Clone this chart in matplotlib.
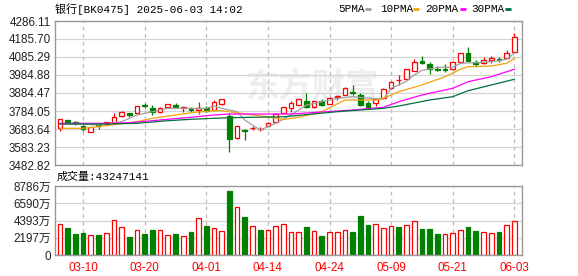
import matplotlib
matplotlib.use('Agg')
import matplotlib.pyplot as plt
from matplotlib.lines import Line2D
import numpy as np

# trading days shown (MM-DD)
dates = ['03-05', '03-06', '03-07', '03-10', '03-11', '03-12', '03-13', '03-14', '03-17', '03-18',
         '03-19', '03-20', '03-21', '03-24', '03-25', '03-26', '03-27', '03-28', '03-31',
         '04-01', '04-02', '04-03', '04-07', '04-08', '04-09', '04-10', '04-11', '04-14', '04-15',
         '04-16', '04-17', '04-18', '04-21', '04-22', '04-23', '04-24', '04-25', '04-28', '04-29',
         '04-30',
         '05-06', '05-07', '05-08', '05-09', '05-12', '05-13', '05-14', '05-15', '05-16', '05-19',
         '05-20', '05-21', '05-22', '05-23', '05-26', '05-27', '05-28', '05-29', '05-30',
         '06-03']

opens = [3687.5, 3733.8, 3723.0, 3702.0, 3668.6, 3708.0, 3709.0, 3715.4, 3756.2, 3771.2,
         3771.2, 3820.3, 3799.1, 3776.8, 3804.7, 3817.5, 3799.1, 3793.5, 3787.9, 3798.0,
         3789.6, 3821.4, 3756.2, 3631.8, 3680.8, 3689.2, 3683.7, 3702.1, 3724.4, 3772.9,
         3799.1, 3817.5, 3841.5, 3804.7, 3841.5, 3823.1, 3859.4, 3873.3, 3891.7, 3873.3,
         3830.4, 3827.0, 3854.9, 3910.7, 3954.2, 3960.9, 4008.9, 4060.2, 4046.2, 4018.4,
         4018.4, 4020.0, 4059.0, 4105.9, 4059.0, 4050.1, 4068.5, 4074.1, 4078.0, 4114.9]
highs = [3737.8, 3736.0, 3730.0, 3704.0, 3697.0, 3715.4, 3724.0, 3771.2, 3785.7, 3773.0,
         3813.0, 3830.4, 3817.5, 3804.0, 3825.0, 3830.4, 3811.9, 3803.6, 3835.9, 3811.9,
         3845.4, 3850.0, 3771.2, 3701.0, 3682.0, 3700.4, 3693.1, 3724.4, 3774.6, 3808.0,
         3841.5, 3851.0, 3882.8, 3841.0, 3849.3, 3863.8, 3873.3, 3916.3, 3929.1, 3886.1,
         3839.8, 3853.0, 3915.1, 3950.0, 3982.1, 4018.0, 4072.5, 4092.5, 4059.0, 4035.1,
         4044.6, 4063.0, 4107.0, 4138.3, 4068.5, 4082.5, 4090.9, 4085.3, 4122.7, 4217.5]
lows = [3674.2, 3716.0, 3706.0, 3672.0, 3668.0, 3682.0, 3706.0, 3714.0, 3748.9, 3750.6,
        3770.0, 3799.1, 3761.7, 3775.0, 3803.0, 3803.0, 3780.1, 3778.5, 3767.3, 3778.5,
        3789.0, 3820.0, 3553.7, 3630.0, 3622.3, 3678.1, 3674.2, 3701.0, 3715.4, 3771.0,
        3780.1, 3816.0, 3803.0, 3803.0, 3811.9, 3822.0, 3845.4, 3872.0, 3873.3, 3811.9,
        3793.5, 3814.7, 3854.0, 3909.0, 3929.1, 3959.0, 4007.0, 4044.6, 3988.8, 4008.0,
        4001.6, 4012.8, 4058.0, 4063.0, 4027.8, 4046.2, 4053.5, 4059.0, 4077.0, 4114.0]
closes = [3737.8, 3718.8, 3719.0, 3682.0, 3696.5, 3700.0, 3720.0, 3752.3, 3776.8, 3761.7,
          3811.9, 3809.2, 3778.5, 3802.5, 3823.1, 3804.7, 3803.6, 3789.6, 3798.0, 3786.8,
          3835.9, 3849.3, 3627.9, 3700.4, 3672.5, 3692.0, 3683.7, 3718.8, 3765.7, 3806.4,
          3825.9, 3849.3, 3804.7, 3839.8, 3817.5, 3858.2, 3865.0, 3910.7, 3882.8, 3817.5,
          3804.7, 3852.1, 3905.1, 3948.6, 3954.2, 4016.7, 4055.7, 4054.6, 4015.6, 4010.0,
          4013.9, 4057.4, 4105.9, 4064.6, 4044.6, 4071.3, 4078.0, 4070.2, 4109.3, 4195.7]

# volume in 万
volumes = [3950, 3395, 2630, 2758, 2503, 2503, 2758, 4455, 3522, 2250,
           3182, 2630, 3182, 3182, 2503, 2630, 2376, 2927, 4667, 3692,
           3395, 3055, 8147, 6067, 4837, 3692, 3182, 3182, 3692, 3904,
           2889, 2889, 3522, 3055, 2376, 2889, 2889, 3182, 2889, 4964,
           3819, 3904, 3395, 3650, 3522, 3819, 4328, 3310, 3310, 2673,
           2630, 2758, 3182, 3522, 3097, 2889, 2758, 2927, 3819, 4324.7141]
vol_up = [1, 0, 0, 0, 1, 0, 1, 1, 1, 0, 1, 0, 0, 1, 1, 0, 1, 0, 1, 0,
          1, 1, 0, 1, 0, 1, 0, 1, 1, 1, 1, 1, 0, 1, 0, 1, 1, 1, 0, 0,
          0, 1, 1, 1, 0, 1, 1, 0, 0, 0, 1, 1, 1, 0, 0, 1, 1, 0, 1, 1]

# moving averages (index, value)
ma5_idx = [0, 3, 5, 8, 10, 12, 14, 17, 19, 20, 21, 23, 24, 26, 28, 30, 32, 34, 36, 38,
           42, 43, 45, 46, 47, 49, 51, 52, 54, 55, 57, 58, 59]
ma5 = [3711.5, 3711.5, 3706.0, 3724.4, 3761.7, 3780.0, 3799.1, 3799.1, 3799.1, 3811.9,
       3799.1, 3780.1, 3733.8, 3678.1, 3715.4, 3761.7, 3817.5, 3835.9, 3854.9, 3863.8,
       3849.3, 3910.7, 3950.0, 3985.0, 4010.0, 4027.8, 4027.8, 4050.1, 4053.5, 4055.7,
       4064.6, 4072.5, 4105.9]
ma10_idx = [0, 3, 5, 10, 12, 15, 17, 20, 21, 23, 25, 27, 29, 31, 34, 37, 41, 42, 44, 47,
            50, 52, 53, 56, 58, 59]
ma10 = [3687.5, 3687.5, 3696.5, 3724.4, 3743.3, 3761.7, 3774.6, 3785.7, 3785.7, 3774.6,
        3761.7, 3752.3, 3736.1, 3748.9, 3780.7, 3845.4, 3845.4, 3854.9, 3891.7, 3929.1,
        3975.4, 4016.7, 4031.2, 4035.1, 4050.1, 4078.0]
ma20_idx = [0, 6, 9, 12, 14, 17, 20, 22, 30, 38, 42, 44, 47, 51, 53, 56, 59]
ma20 = [3715.4, 3715.4, 3718.8, 3729.9, 3737.8, 3748.9, 3761.7, 3767.3, 3767.3, 3789.6,
        3804.7, 3835.9, 3873.3, 3910.7, 3947.5, 3975.4, 4016.7]
ma30_idx = [0, 6, 10, 14, 17, 20, 22, 29, 36, 42, 44, 48, 51, 53, 56, 59]
ma30 = [3711.5, 3711.5, 3715.4, 3729.9, 3737.8, 3743.3, 3746.7, 3751.7, 3780.1, 3799.1,
        3811.9, 3845.4, 3863.8, 3897.3, 3929.1, 3960.9]

price_ticks = [3482.82, 3583.23, 3683.64, 3784.05, 3884.47, 3984.88, 4085.29, 4185.70, 4286.11]
vol_ticks = [0, 2197, 4393, 6590, 8786]
tick_dates = ['03-10', '03-20', '04-01', '04-14', '04-24', '05-09', '05-21', '06-03']

RED = '#ff0000'
GREEN = '#008000'
ma_colors = ['#a0a0a0', '#f0a30a', '#ff00ff', '#00703c']
ma_names = ['5PMA', '10PMA', '20PMA', '30PMA']

W, H = 578, 276
fig = plt.figure(figsize=(W / 100, H / 100), dpi=100)
ax = fig.add_axes([55 / W, (H - 165) / H, 467 / W, 144 / H])
axv = fig.add_axes([55 / W, (H - 255) / H, 467 / W, 69 / H])

x = np.arange(len(dates))
o = np.array(opens); c = np.array(closes)
up = c >= o
cols = [RED if u else GREEN for u in up]
faces = ['white' if u else GREEN for u in up]
tops = np.maximum(o, c)
bots = np.minimum(o, c)
tick_idx = [dates.index(d) for d in tick_dates]

# watermark
ax.text((245 - 55) / 467, (165 - 88) / 144, '东方财富', transform=ax.transAxes,
        fontsize=24, fontweight='bold', color='#eeeeee', family=['Noto Sans CJK SC'],
        ha='left', va='center', zorder=0)

# grid: solid horizontal, dashed vertical at the date ticks
for a, yt in ((ax, price_ticks), (axv, vol_ticks)):
    for t in yt:
        a.axhline(t, color='#d4d4d4', linewidth=0.9, zorder=1)
    for t in tick_idx:
        a.axvline(t, color='#bdbdbd', linewidth=0.9, linestyle=(0, (3, 3)), zorder=1)

# candles
ax.vlines(x, lows, highs, colors=cols, linewidth=0.9, zorder=3)
ax.bar(x, tops - bots, bottom=bots, width=0.6, color=faces, edgecolor=cols,
       linewidth=0.9, zorder=4)

# moving averages
for idx, vals, col in zip([ma5_idx, ma10_idx, ma20_idx, ma30_idx], [ma5, ma10, ma20, ma30], ma_colors):
    ax.plot(idx, vals, color=col, linewidth=0.9, zorder=5)

# volume
vcols = [RED if v else GREEN for v in vol_up]
vfaces = ['white' if v else GREEN for v in vol_up]
axv.bar(x, volumes, width=0.6, color=vfaces, edgecolor=vcols, linewidth=0.9, zorder=3)

num_font = ['Liberation Sans', 'Noto Sans CJK SC']

for a in (ax, axv):
    a.set_xlim(-0.65, 60.0)
    a.set_xticks(tick_idx)
    for s in a.spines.values():
        s.set_color('#999999')
        s.set_linewidth(1.0)
        s.set_zorder(6)
    a.tick_params(length=0)

ax.set_ylim(price_ticks[0], price_ticks[-1])
ax.set_yticks(price_ticks)
ax.set_yticklabels(['%.2f' % t for t in price_ticks], fontsize=8.4, color='#222222', family=num_font)
ax.tick_params(axis='y', pad=3)
ax.set_xticklabels([])

axv.set_ylim(0, vol_ticks[-1])
axv.set_yticks(vol_ticks)
axv.set_yticklabels(['0'] + ['%d万' % t for t in vol_ticks[1:]], fontsize=8.4, color='#222222',
                    family=num_font)
axv.tick_params(axis='y', pad=3)
axv.set_xticklabels(tick_dates, fontsize=8.4, color=RED, family=num_font)
axv.tick_params(axis='x', pad=5)

mono = ['Liberation Mono', 'Noto Sans CJK SC']
fig.text(55 / W, 1 - 9 / H, '银行[BK0475] 2025-06-03 14:02', fontsize=7.9, family=mono,
         ha='left', va='center', color='black')
fig.text(57 / W, 1 - 177 / H, '成交量:43247141', fontsize=7.9, family=mono,
         ha='left', va='center', color='black')

# legend at top right
text_x = [338, 380, 425, 471]
mark_x = [365, 413, 460, 505]
for name, col, tx, mx in zip(ma_names, ma_colors, text_x, mark_x):
    fig.text(tx / W, 1 - 9 / H, name, fontsize=7.9, family=mono, ha='left', va='center', color='black')
    fig.add_artist(Line2D([mx / W, (mx + 6) / W], [1 - 9 / H, 1 - 9 / H], transform=fig.transFigure,
                          color=col, linewidth=2.0, solid_capstyle='butt'))

fig.savefig('out.png', dpi=100)
